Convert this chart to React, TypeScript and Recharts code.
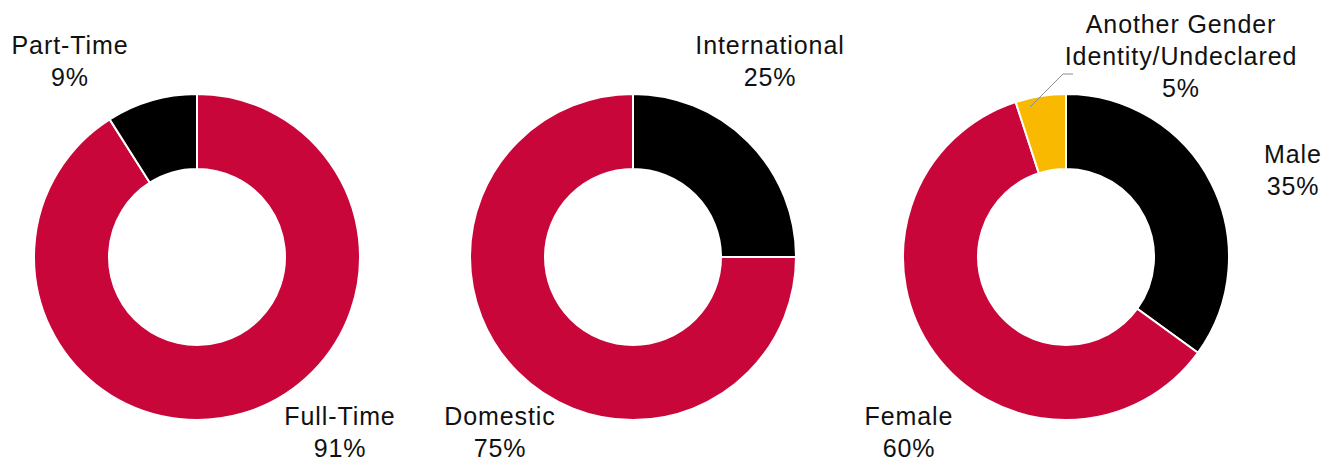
import { PieChart, Pie, Cell } from 'recharts';

// enrolment splits, clockwise from 12 o'clock
const studyNames = ['Full-Time', 'Part-Time'];
const studyValues = [91, 9];

const originNames = ['International', 'Domestic'];
const originValues = [25, 75];

const genderNames = ['Male', 'Female', 'Another Gender\nIdentity/Undeclared'];
const genderValues = [35, 60, 5];

const RED = '#C8063A';
const BLACK = '#000000';
const YELLOW = '#F9B900';

// label anchor offsets from pie centre (centre x, first baseline)
const studyLabelPos = [{ dx: 143, dy: 168 }, { dx: -127, dy: -203 }];
const originLabelPos = [{ dx: 137, dy: -203 }, { dx: -133, dy: 168 }];
const genderLabelPos = [{ dx: 227, dy: -94 }, { dx: -157, dy: 168 }, { dx: 115, dy: -224 }];

const FONT = '"Liberation Sans", Arial, sans-serif';
const LINE_H = 32;

function makeLabel(pos: { dx: number; dy: number }[], leader?: { index: number; pts: number[][] }) {
  return (props: any) => {
    const { cx, cy, index, name, value } = props;
    const p = pos[index];
    const lines = String(name).split('\n').concat([`${value}%`]);
    const x = cx + p.dx;
    const y = cy + p.dy;
    return (
      <g key={`lbl-${index}`}>
        {leader && leader.index === index && (
          <polyline
            points={leader.pts.map(([a, b]) => `${cx + a},${cy + b}`).join(' ')}
            fill="none"
            stroke="#8c8c8c"
            strokeWidth={1}
          />
        )}
        <text x={x} y={y} textAnchor="middle" fill="#111" fontFamily={FONT} fontSize={25} letterSpacing={0.9}>
          {lines.map((l, i) => (
            <tspan key={i} x={x} y={y + i * LINE_H}>
              {l}
            </tspan>
          ))}
        </text>
      </g>
    );
  };
}

const toRows = (names: string[], values: number[]) => names.map((n, i) => ({ name: n, value: values[i] }));

export default function App() {
  const studyData = toRows(studyNames, studyValues);
  const originData = toRows(originNames, originValues);
  const genderData = toRows(genderNames, genderValues);

  const common = {
    cy: 257,
    innerRadius: 88,
    outerRadius: 163,
    startAngle: 90,
    endAngle: -270,
    dataKey: 'value',
    stroke: '#fff',
    strokeWidth: 2,
    labelLine: false,
    isAnimationActive: false,
  };

  return (
    <div style={{ position: 'absolute', left: 0, top: 0, width: 1338, height: 466, background: '#fff' }}>
      <PieChart width={1338} height={466} margin={{ top: 0, right: 0, bottom: 0, left: 0 }}>
        <Pie {...common} data={studyData} cx={197} label={makeLabel(studyLabelPos)}>
          <Cell fill={RED} />
          <Cell fill={BLACK} />
        </Pie>
        <Pie {...common} data={originData} cx={633} label={makeLabel(originLabelPos)}>
          <Cell fill={BLACK} />
          <Cell fill={RED} />
        </Pie>
        <Pie
          {...common}
          data={genderData}
          cx={1066}
          label={makeLabel(genderLabelPos, { index: 2, pts: [[-36, -150], [-3, -183], [7, -183]] })}
        >
          <Cell fill={BLACK} />
          <Cell fill={RED} />
          <Cell fill={YELLOW} />
        </Pie>
      </PieChart>
    </div>
  );
}
